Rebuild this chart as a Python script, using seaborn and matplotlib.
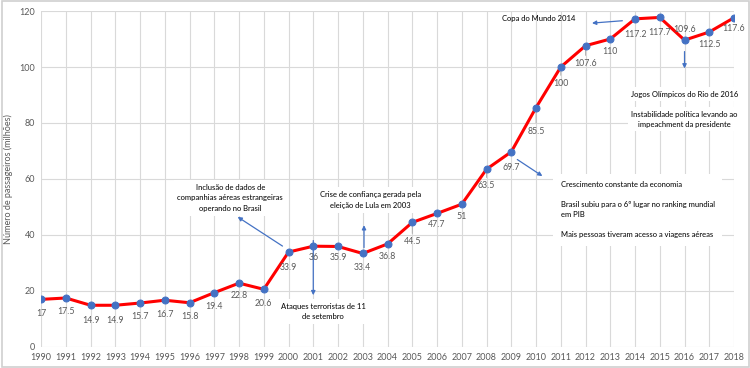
import pandas as pd
import matplotlib.pyplot as plt
import seaborn as sns

anos = list(range(1990, 2019))
passageiros = [17, 17.5, 14.9, 14.9, 15.7, 16.7, 15.8, 19.4, 22.8, 20.6,
               33.9, 36, 35.9, 33.4, 36.8, 44.5, 47.7, 51, 63.5, 69.7,
               85.5, 100, 107.6, 110, 117.2, 117.7, 109.6, 112.5, 117.6]
# deslocamento vertical dos rotulos (pontos tipograficos)
offsets = [-10, -10, -11, -11, -10, -10, -10, -10, -9, -10,
           -11, -8, -8, -10, -9, -14, -8, -9, -12, -11,
           -17, -12, -13, -9, -11, -11, 8, -9, -8]

df = pd.DataFrame({'ano': anos, 'passageiros': passageiros})

sns.set_style('whitegrid')
plt.rcParams['font.family'] = ['Lato', 'DejaVu Sans']

fig = plt.figure(figsize=(7.5, 3.68), dpi=100)
ax = fig.add_axes([0.0547, 0.0571, 0.9240, 0.913])

sns.lineplot(data=df, x='ano', y='passageiros', ax=ax, color='#ff0000',
             linewidth=2.2, marker='o', markersize=5,
             markerfacecolor='#4472c4', markeredgecolor='#4472c4', zorder=3)

grey = '#595959'
for a, v, off in zip(anos, passageiros, offsets):
    ax.annotate(f'{v:g}', (a, v), xytext=(0, off), textcoords='offset points',
                ha='center', va='center', fontsize=6.3, color=grey, zorder=4)
    if abs(off) >= 12:
        sgn = 1 if off > 0 else -1
        ax.annotate('', (a, v), xytext=(0, off - sgn * 4), textcoords='offset points',
                    arrowprops=dict(arrowstyle='-', color='#a6a6a6', lw=0.6), zorder=2)

ax.set_xlim(1990, 2018)
ax.set_ylim(0, 120)
ax.set_xticks(anos)
ax.set_yticks(range(0, 121, 20))
ax.tick_params(axis='both', labelsize=6.5, colors=grey, length=0, pad=4)
ax.set_xlabel('')
ax.set_ylabel('Número de passageiros (milhões)', fontsize=6.5, color=grey, labelpad=5)
ax.grid(True, color='#d9d9d9', linewidth=0.8)
for s in ax.spines.values():
    s.set_visible(False)

box = dict(boxstyle='square,pad=0.5', facecolor='white', edgecolor='none')
txt = dict(fontsize=5.5, color='#111111', zorder=2, fontweight='medium')
arr = dict(arrowstyle='-|>', color='#4472c4', lw=0.9, mutation_scale=6)

ax.text(2010.1, 117.3, 'Copa do Mundo 2014', ha='center', va='center', **txt)
ax.annotate('', xy=(2012.15, 115.6), xytext=(2013.6, 116.6), arrowprops=arr)

ax.annotate('', xy=(2016, 98.5), xytext=(2016, 106.5), arrowprops=arr)
ax.text(2016, 90.3, 'Jogos Olímpicos do Rio de 2016', ha='center', va='center',
        bbox=box, **txt)
ax.text(2016, 81.4, 'Instabilidade política levando ao\nimpeachment da presidente',
        ha='center', va='center', linespacing=1.5, bbox=box, **txt)

ax.annotate('', xy=(2010.35, 60.5), xytext=(2009.15, 67.5), arrowprops=arr)
ax.text(2011.0, 59.2, 'Crescimento constante da economia\n\n'
        'Brasil subiu para o 6º lugar no ranking mundial\nem PIB\n\n'
        'Mais pessoas tiveram acesso a viagens aéreas',
        ha='left', va='top', linespacing=1.5,
        bbox=dict(boxstyle='square,pad=1.0', facecolor='white', edgecolor='none'), **txt)

ax.text(1997.65, 58.3, 'Inclusão de dados de\ncompanhias aéreas estrangeiras\noperando no Brasil',
        ha='center', va='top', linespacing=1.6, bbox=box, **txt)
ax.annotate('', xy=(1997.85, 47), xytext=(1999.85, 35.5), arrowprops=arr)

ax.annotate('', xy=(2001, 17.5), xytext=(2001, 39), arrowprops=arr)
ax.text(2001.4, 12.7, 'Ataques terroristas de 11\nde setembro', ha='center', va='center',
        linespacing=1.6, bbox=box, **txt)

ax.annotate('', xy=(2003.05, 44.5), xytext=(2003.05, 34.5), arrowprops=arr)
ax.text(2003.3, 52.5, 'Crise de confiança gerada pela\neleição de Lula em 2003',
        ha='center', va='center', linespacing=1.6, bbox=box, **txt)

fig.patches.append(plt.Rectangle((0.002, 0.003), 0.996, 0.994, transform=fig.transFigure,
                                 fill=False, edgecolor='#d0d0d0', linewidth=1.2))

fig.savefig('out.png', dpi=100)
